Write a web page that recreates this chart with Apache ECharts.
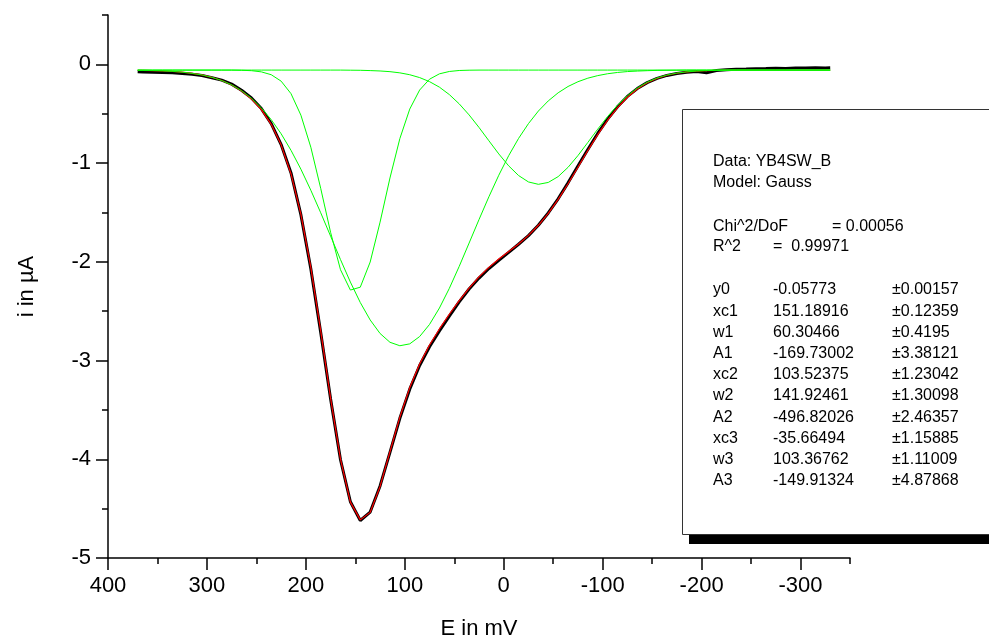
<!DOCTYPE html>
<html>
<head>
<meta charset="utf-8">
<script src="https://cdn.jsdelivr.net/npm/echarts@6/dist/echarts.min.js"></script>
<style>
  html, body { margin: 0; padding: 0; background: #fff; }
  #chart { width: 989px; height: 643px; }
</style>
</head>
<body>
<div id="chart"></div>
<script>
// potential E (mV), same sampling for every curve
const potentials = [370, 365, 355, 345, 335, 325, 315, 305, 295, 285, 275, 265, 255, 245, 235, 225, 215, 205, 195, 185,
  175, 165, 155, 145, 135, 125, 115, 105, 95, 85, 75, 65, 55, 45, 35, 25, 15, 5, -5, -15,
  -25, -35, -45, -55, -65, -75, -85, -95, -105, -115, -125, -135, -145, -155, -165, -175, -185, -195, -205, -215,
  -225, -235, -245, -255, -265, -275, -285, -295, -305, -315, -325, -330];

// measured current (black)
const measured = [-0.075, -0.078, -0.080, -0.082, -0.085, -0.092, -0.100, -0.112, -0.135, -0.160, -0.200, -0.262, -0.340, -0.448, -0.600, -0.812, -1.100, -1.525, -2.070, -2.715,
  -3.390, -4.005, -4.430, -4.620, -4.535, -4.270, -3.930, -3.585, -3.290, -3.050, -2.860, -2.700, -2.550, -2.405, -2.275, -2.165, -2.068, -1.985, -1.905, -1.822,
  -1.735, -1.630, -1.505, -1.362, -1.200, -1.030, -0.862, -0.700, -0.555, -0.430, -0.325, -0.245, -0.185, -0.142, -0.112, -0.092, -0.080, -0.072, -0.085, -0.062,
  -0.055, -0.050, -0.048, -0.045, -0.043, -0.040, -0.042, -0.038, -0.036, -0.035, -0.036, -0.035];

// cumulative fit (red)
const fitSum = [-0.060, -0.061, -0.063, -0.066, -0.071, -0.079, -0.091, -0.107, -0.131, -0.164, -0.209, -0.269, -0.350, -0.458, -0.607, -0.815, -1.110, -1.519, -2.056, -2.700,
  -3.384, -3.999, -4.434, -4.614, -4.538, -4.275, -3.924, -3.573, -3.274, -3.035, -2.843, -2.680, -2.531, -2.393, -2.266, -2.153, -2.056, -1.972, -1.896, -1.819,
  -1.732, -1.630, -1.509, -1.367, -1.209, -1.042, -0.873, -0.712, -0.566, -0.438, -0.333, -0.250, -0.187, -0.142, -0.110, -0.090, -0.076, -0.068, -0.063, -0.061,
  -0.059, -0.058, -0.058, -0.058, -0.058, -0.058, -0.058, -0.058, -0.058, -0.058, -0.058, -0.058];

// gauss components (green)
const peak1 = [-0.058, -0.058, -0.058, -0.058, -0.058, -0.058, -0.058, -0.058, -0.058, -0.058, -0.058, -0.060, -0.064, -0.076, -0.105, -0.170, -0.297, -0.515, -0.839, -1.256,
  -1.702, -2.080, -2.286, -2.257, -2.002, -1.598, -1.151, -0.752, -0.453, -0.260, -0.150, -0.096, -0.072, -0.062, -0.059, -0.058, -0.058, -0.058, -0.058, -0.058,
  -0.058, -0.058, -0.058, -0.058, -0.058, -0.058, -0.058, -0.058, -0.058, -0.058, -0.058, -0.058, -0.058, -0.058, -0.058, -0.058, -0.058, -0.058, -0.058, -0.058,
  -0.058, -0.058, -0.058, -0.058, -0.058, -0.058, -0.058, -0.058, -0.058, -0.058, -0.058, -0.058];
const peak2 = [-0.060, -0.061, -0.063, -0.066, -0.071, -0.079, -0.091, -0.107, -0.131, -0.164, -0.208, -0.267, -0.344, -0.441, -0.560, -0.703, -0.871, -1.062, -1.275, -1.503,
  -1.740, -1.977, -2.205, -2.412, -2.589, -2.726, -2.815, -2.850, -2.831, -2.757, -2.634, -2.468, -2.269, -2.046, -1.810, -1.572, -1.341, -1.123, -0.925, -0.750,
  -0.600, -0.473, -0.370, -0.288, -0.224, -0.176, -0.140, -0.114, -0.095, -0.082, -0.073, -0.068, -0.064, -0.061, -0.060, -0.059, -0.058, -0.058, -0.058, -0.058,
  -0.058, -0.058, -0.058, -0.058, -0.058, -0.058, -0.058, -0.058, -0.058, -0.058, -0.058, -0.058];
const peak3 = [-0.058, -0.058, -0.058, -0.058, -0.058, -0.058, -0.058, -0.058, -0.058, -0.058, -0.058, -0.058, -0.058, -0.058, -0.058, -0.058, -0.058, -0.058, -0.058, -0.058,
  -0.058, -0.058, -0.059, -0.060, -0.063, -0.067, -0.074, -0.086, -0.105, -0.134, -0.175, -0.231, -0.306, -0.400, -0.512, -0.639, -0.774, -0.907, -1.028, -1.126,
  -1.191, -1.215, -1.196, -1.137, -1.043, -0.924, -0.791, -0.656, -0.528, -0.414, -0.318, -0.240, -0.181, -0.138, -0.108, -0.088, -0.076, -0.068, -0.063, -0.061,
  -0.059, -0.058, -0.058, -0.058, -0.058, -0.058, -0.058, -0.058, -0.058, -0.058, -0.058, -0.058];

const majorX = [400, 300, 200, 100, 0, -100, -200, -300];
const majorY = [0, -1, -2, -3, -4, -5];

// fit report text
const reportHead = ['Data: YB4SW_B', 'Model: Gauss'];
const paramNames = ['y0', 'xc1', 'w1', 'A1', 'xc2', 'w2', 'A2', 'xc3', 'w3', 'A3'];
const paramValues = ['-0.05773', '151.18916', '60.30466', '-169.73002', '103.52375', '141.92461', '-496.82026', '-35.66494', '103.36762', '-149.91324'];
const paramErrors = ['\u00b10.00157', '\u00b10.12359', '\u00b10.4195', '\u00b13.38121', '\u00b11.23042', '\u00b11.30098', '\u00b12.46357', '\u00b11.15885', '\u00b11.11009', '\u00b14.87868'];

function pairs(ys) {
  return potentials.map((x, i) => [x, ys[i]]);
}

const FONT = '"Liberation Sans", Arial, sans-serif';
const chart = echarts.init(document.getElementById('chart'));

function lineSerie(ys, color, width, z) {
  return {
    type: 'line',
    data: pairs(ys),
    showSymbol: false,
    symbol: 'none',
    smooth: false,
    z: z,
    lineStyle: { color: color, width: width },
    emphasis: { disabled: true },
    animation: false
  };
}

const axisLine = { show: true, onZero: false, lineStyle: { color: '#000', width: 1.5 } };

// text block inside the report box
const txt = [];
function addText(x, y, s) {
  txt.push({
    type: 'text', x: x, y: y, z: 101,
    style: { text: s, fill: '#000', font: '16px ' + FONT, verticalAlign: 'middle' }
  });
}
addText(713, 162, reportHead[0]);
addText(713, 183, reportHead[1]);
addText(713, 227, 'Chi^2/DoF');
addText(832, 227, '= 0.00056');
addText(713, 247, 'R^2');
addText(773, 247, '=  0.99971');
for (let i = 0; i < paramNames.length; i++) {
  let y = 290 + i * 21.2;
  addText(713, y, paramNames[i]);
  addText(773, y, paramValues[i]);
  addText(892, y, paramErrors[i]);
}

const option = {
  backgroundColor: '#fff',
  animation: false,
  grid: { left: 108, right: 139, top: 15, bottom: 85, containLabel: false, outerBoundsMode: 'none' },
  xAxis: [{
    type: 'value', inverse: true, min: -350, max: 400, interval: 50,
    name: 'E in mV', nameLocation: 'middle', nameGap: 60,
    nameTextStyle: { color: '#000', fontSize: 22, fontFamily: FONT },
    axisLine: axisLine,
    axisTick: { show: true, inside: false, length: 6, lineStyle: { color: '#000', width: 1.5 } },
    axisLabel: {
      color: '#000', fontSize: 22, fontFamily: FONT, margin: 17,
      formatter: v => (v % 100 === 0 ? String(v) : '')
    },
    splitLine: { show: false }
  }, {
    type: 'value', inverse: true, min: -350, max: 400, position: 'bottom',
    axisLine: { show: false, onZero: false },
    axisTick: { show: true, inside: false, length: 12, customValues: majorX, lineStyle: { color: '#000', width: 1.5 } },
    axisLabel: { show: false },
    splitLine: { show: false }
  }],
  yAxis: [{
    type: 'value', min: -5, max: 0.5, interval: 0.5,
    name: 'i in \u00b5A', nameLocation: 'middle', nameGap: 70,
    nameTextStyle: { color: '#000', fontSize: 22, fontFamily: FONT },
    axisLine: axisLine,
    axisTick: { show: true, inside: false, length: 6, lineStyle: { color: '#000', width: 1.5 } },
    axisLabel: {
      color: '#000', fontSize: 22, fontFamily: FONT, margin: 17,
      formatter: v => (Number.isInteger(v) ? String(v) : '')
    },
    splitLine: { show: false }
  }, {
    type: 'value', min: -5, max: 0.5, position: 'left',
    axisLine: { show: false, onZero: false },
    axisTick: { show: true, inside: false, length: 12, customValues: majorY, lineStyle: { color: '#000', width: 1.5 } },
    axisLabel: { show: false },
    splitLine: { show: false }
  }],
  series: [
    lineSerie(measured, '#000', 3, 2),
    lineSerie(fitSum, '#ff0000', 1.2, 3),
    lineSerie(peak1, '#00ff00', 1, 4),
    lineSerie(peak2, '#00ff00', 1, 4),
    lineSerie(peak3, '#00ff00', 1, 4)
  ],
  graphic: [
    { type: 'rect', z: 99, shape: { x: 689, y: 535, width: 310, height: 9 }, style: { fill: '#000' } },
    { type: 'rect', z: 100, shape: { x: 682.5, y: 109.5, width: 330, height: 425 }, style: { fill: '#fff', stroke: '#333', lineWidth: 1 } }
  ].concat(txt)
};

chart.setOption(option);
</script>
</body>
</html>
